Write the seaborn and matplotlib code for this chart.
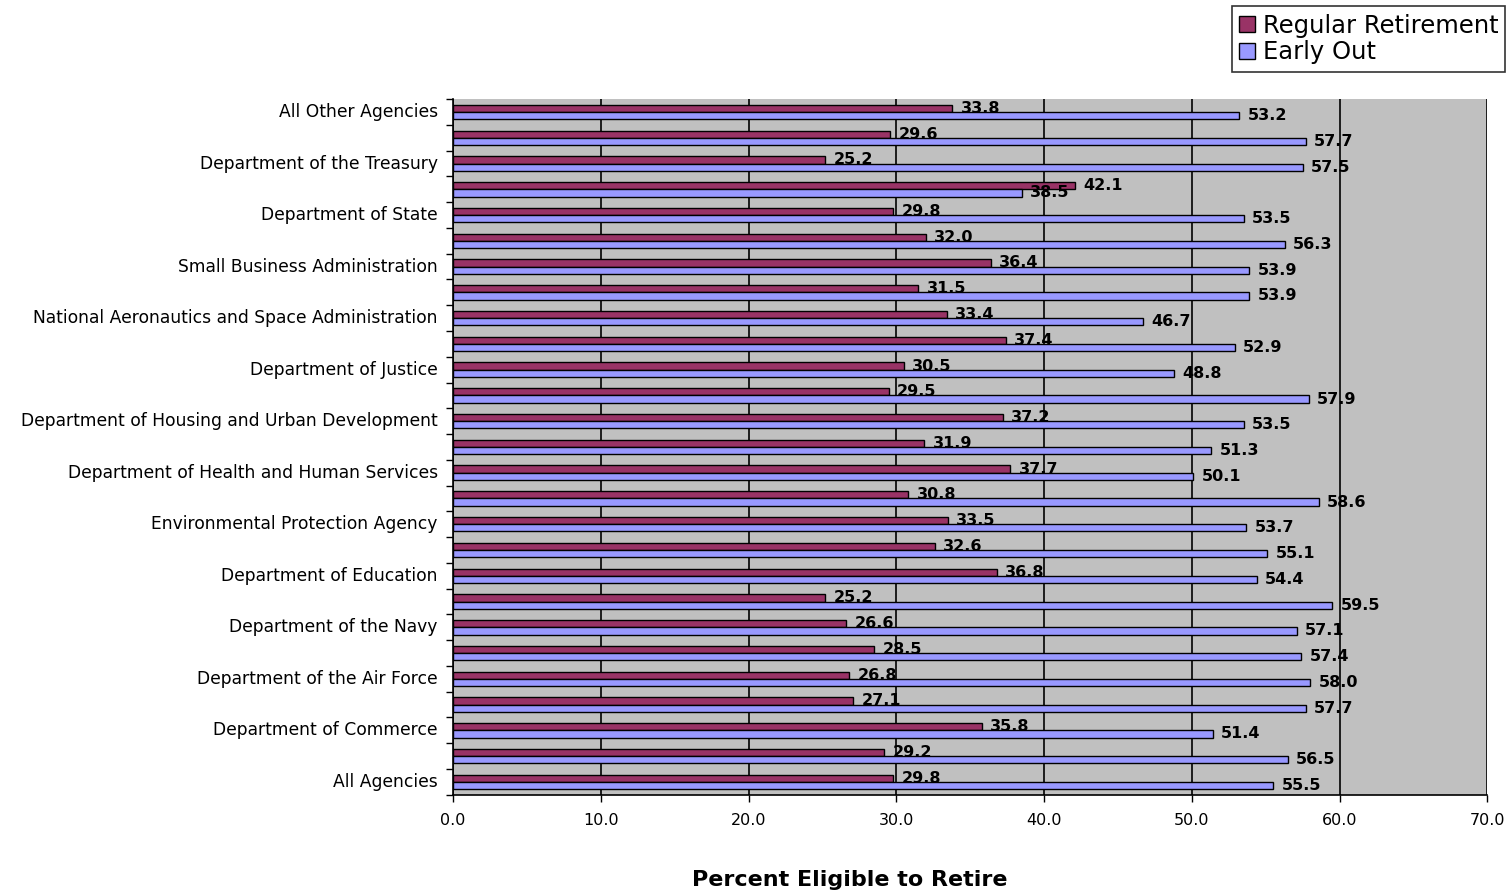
import numpy as np
import pandas as pd
import matplotlib
matplotlib.use("Agg")
import matplotlib.pyplot as plt
import seaborn as sns
from matplotlib.patches import Patch

tick_labels = ["All Other Agencies", "", "Department of the Treasury", "",
               "Department of State", "", "Small Business Administration", "",
               "National Aeronautics and Space Administration", "",
               "Department of Justice", "",
               "Department of Housing and Urban Development", "",
               "Department of Health and Human Services", "",
               "Environmental Protection Agency", "", "Department of Education", "",
               "Department of the Navy", "", "Department of the Air Force", "",
               "Department of Commerce", "", "All Agencies"]
regular = [33.8, 29.6, 25.2, 42.1, 29.8, 32.0, 36.4, 31.5, 33.4, 37.4, 30.5, 29.5,
           37.2, 31.9, 37.7, 30.8, 33.5, 32.6, 36.8, 25.2, 26.6, 28.5, 26.8, 27.1,
           35.8, 29.2, 29.8]
early = [53.2, 57.7, 57.5, 38.5, 53.5, 56.3, 53.9, 53.9, 46.7, 52.9, 48.8, 57.9,
         53.5, 51.3, 50.1, 58.6, 53.7, 55.1, 54.4, 59.5, 57.1, 57.4, 58.0, 57.7,
         51.4, 56.5, 55.5]
series = ["Regular Retirement", "Early Out"]
colors = ["#993366", "#9999FF"]
x_ticks = [0, 10, 20, 30, 40, 50, 60, 70]

sns.set_theme(style="white")
plt.rcParams['font.family'] = ['DejaVu Sans']
plt.rcParams['text.color'] = 'black'
plt.rcParams['xtick.color'] = 'black'
plt.rcParams['ytick.color'] = 'black'

rows = [f"r{i}" for i in range(len(tick_labels))]
df = pd.DataFrame({
    "row": rows * 2,
    "value": regular + early,
    "series": [series[0]] * len(rows) + [series[1]] * len(rows),
})

fig = plt.figure(figsize=(15.1, 8.93), dpi=100)
ax = fig.add_axes([0.300, 0.110, 0.685, 0.779])
sns.barplot(data=df, x="value", y="row", hue="series", orient="h", order=rows,
            hue_order=series, palette=colors, width=0.56, saturation=1,
            edgecolor="black", linewidth=1.0, legend=False, ax=ax, zorder=3)

ax.set_facecolor("#C0C0C0")
ax.set_xlim(0, 70)
ax.set_xticks(x_ticks)
ax.set_xticklabels([f"{v:.1f}" for v in x_ticks], fontsize=11.5)
ax.set_yticks(range(len(rows)))
ax.set_yticklabels(tick_labels, fontsize=12.3, va="center")
ax.set_yticks(np.arange(-0.5, len(rows), 1), minor=True)
ax.tick_params(axis="y", which="major", length=0, pad=11)
ax.tick_params(axis="y", which="minor", length=5, width=1, color="black", direction="out", left=True)
ax.tick_params(axis="x", which="major", length=5, width=1, color="black", direction="out", bottom=True, pad=8)
ax.set_ylim(len(rows) - 0.5, -0.5)
ax.xaxis.grid(True, color="black", linewidth=1.2, zorder=1)
ax.set_axisbelow(True)
ax.set_xlabel("")
ax.set_ylabel("")
for s in ["top", "right"]:
    ax.spines[s].set_visible(False)
for s in ["left", "bottom"]:
    ax.spines[s].set_color("black")
    ax.spines[s].set_linewidth(1.2)

for cont in ax.containers:
    ax.bar_label(cont, fmt="%.1f", padding=6, fontsize=11.5, fontweight="bold", color="black")

handles = [Patch(facecolor=c, edgecolor="black", label=s) for c, s in zip(colors, series)]
leg = fig.legend(handles=handles, loc="upper right", bbox_to_anchor=(0.997, 0.993),
                 frameon=True, fancybox=False, edgecolor="black", fontsize=17.5,
                 handlelength=0.65, handleheight=0.65, handletextpad=0.3,
                 borderpad=0.3, labelspacing=0.12, borderaxespad=0)
leg.get_frame().set_linewidth(1.2)

fig.text(0.563, 0.0146, "Percent Eligible to Retire", ha="center", va="center",
         fontsize=16, fontweight="bold", color="black")

fig.savefig("out.png", dpi=100, facecolor="white")
